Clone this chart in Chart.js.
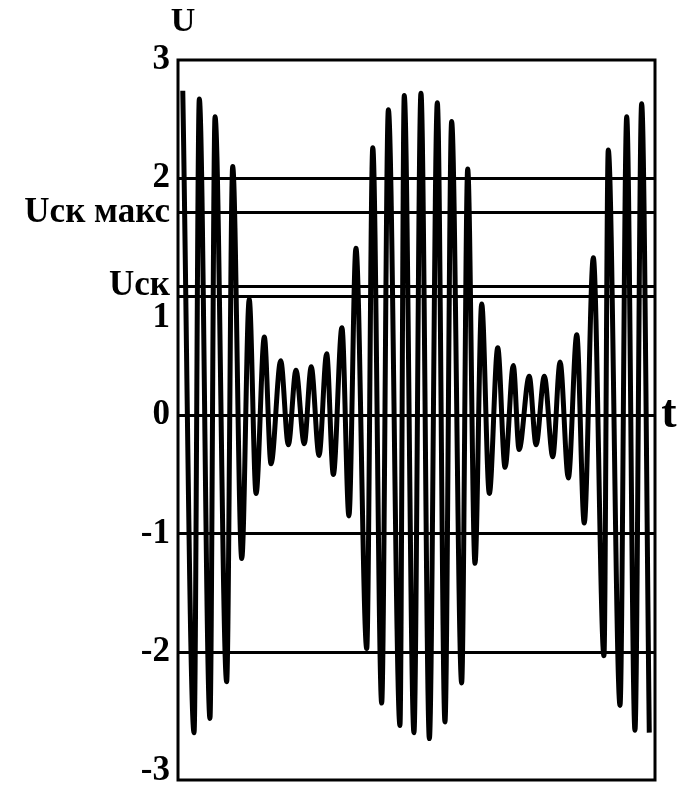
<!DOCTYPE html>
<html>
<head>
<meta charset="utf-8">
<title>U(t)</title>
<script src="https://cdn.jsdelivr.net/npm/chart.js@4/dist/chart.umd.min.js"></script>
<style>
  body { margin: 0; background: #fff; }
</style>
</head>
<body>
<canvas id="myChart" width="687" height="787"></canvas>
<script>
// extrema of the signal (t in arbitrary units)
const tPoints = [
  0.30, 1.01, 1.34, 2.01, 2.33, 3.06, 3.44, 4.01, 4.48, 4.91,
  5.43, 5.85, 6.46, 6.94, 7.42, 7.94, 8.38, 8.87, 9.35, 9.77,
  10.31, 10.75, 11.19, 11.87, 12.25, 12.81, 13.23, 13.96, 14.23, 14.84,
  15.28, 15.81, 16.31, 16.79, 17.21, 17.84, 18.22, 18.68, 19.10, 19.58,
  20.11, 20.57, 21.09, 21.45, 22.09, 22.52, 23.04, 23.57, 24.03, 24.55,
  25.08, 25.55, 26.12, 26.79, 27.06, 27.80, 28.22, 28.74, 29.16, 29.64,
]
const uPoints = [
  2.74, -2.68, 2.67, -2.56, 2.52, -2.25, 2.10, -1.21, 0.98, -0.66,
  0.66, -0.41, 0.46, -0.25, 0.38, -0.24, 0.41, -0.34, 0.52, -0.50,
  0.74, -0.85, 1.41, -1.97, 2.26, -2.43, 2.58, -2.62, 2.70, -2.68,
  2.72, -2.73, 2.64, -2.59, 2.48, -2.26, 2.08, -1.25, 0.94, -0.66,
  0.57, -0.44, 0.42, -0.29, 0.33, -0.25, 0.33, -0.35, 0.45, -0.53,
  0.68, -0.91, 1.33, -2.03, 2.24, -2.45, 2.52, -2.66, 2.63, -2.68,
]

// y-axis ticks: value, label, whether a horizontal line is drawn
const tickValues = [3, 2, 1.71, 1.09, 1, 0.82, 0, -1, -2, -3]
const tickLabels = ['3', '2', 'Uск макс', 'Uск', '', '1', '0', '-1', '-2', '-3']
const tickLines = [false, true, true, true, true, false, true, true, true, false]

const serif = 'Liberation Serif, Times New Roman, serif'

const frameAndTitles = {
  id: 'frameAndTitles',
  afterDraw(chart) {
    const { ctx, chartArea: a } = chart
    ctx.save()
    ctx.strokeStyle = '#000'
    ctx.lineWidth = 3
    ctx.strokeRect(a.left, a.top, a.right - a.left, a.bottom - a.top)
    ctx.fillStyle = '#000'
    ctx.textAlign = 'center'
    ctx.textBaseline = 'middle'
    ctx.font = 'bold 34px ' + serif
    ctx.fillText('U', a.left + 5, 22)
    ctx.font = 'bold 46px ' + serif
    ctx.fillText('t', a.right + 14, chart.scales.y.getPixelForValue(0))
    ctx.restore()
  },
}

const ctx = document.getElementById('myChart').getContext('2d')
const myChart = new Chart(ctx, {
  type: 'line',
  data: {
    datasets: [
      {
        data: tPoints.map((t, i) => ({ x: t, y: uPoints[i] })),
        borderColor: '#000',
        borderWidth: 5,
        pointRadius: 0,
        cubicInterpolationMode: 'monotone',
        fill: false,
      },
    ],
  },
  options: {
    responsive: false,
    animation: false,
    devicePixelRatio: 1,
    layout: { padding: { top: 60, right: 32, bottom: 7, left: 0 } },
    plugins: {
      legend: { display: false },
      tooltip: { enabled: false },
    },
    scales: {
      x: {
        type: 'linear',
        min: 0,
        max: 30,
        display: false,
      },
      y: {
        min: -3.08,
        max: 3,
        afterBuildTicks: (scale) => {
          scale.ticks = tickValues.map((v) => ({ value: v }))
        },
        afterFit: (scale) => {
          scale.width = 178
          scale.paddingTop = 0
          scale.paddingBottom = 0
        },
        border: { display: false },
        grid: {
          drawTicks: false,
          lineWidth: 3,
          color: (c) => {
            const i = tickValues.indexOf(c.tick ? c.tick.value : NaN)
            return i >= 0 && tickLines[i] ? '#000' : 'rgba(0,0,0,0)'
          },
        },
        ticks: {
          autoSkip: false,
          padding: 8,
          color: '#000',
          font: { family: serif, weight: 'bold', size: 35 },
          callback: (value) => {
            const i = tickValues.indexOf(value)
            return i >= 0 ? tickLabels[i] : ''
          },
        },
      },
    },
  },
  plugins: [frameAndTitles],
})
</script>
</body>
</html>
